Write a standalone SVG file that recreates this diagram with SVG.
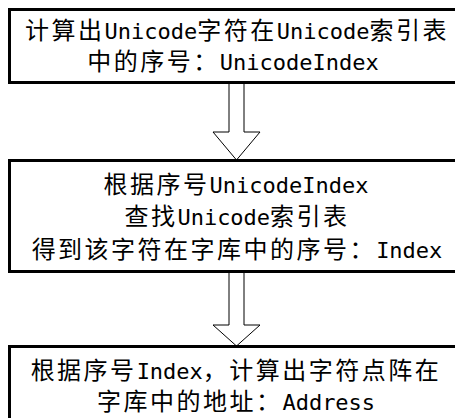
<svg xmlns="http://www.w3.org/2000/svg" width="455" height="418" viewBox="0 0 455 418">
<style>
.box{fill:#fff;stroke:#000;stroke-width:3}
.arr{fill:#fff;stroke:#000;stroke-width:1}
text{font-family:"Noto Sans CJK SC","Noto Sans",sans-serif;font-size:24px;letter-spacing:2.5px;fill:#000;text-anchor:middle}
.lat{font-family:"DejaVu Sans Mono","Liberation Mono",monospace;font-size:22px;letter-spacing:0}
</style>
<rect width="455" height="418" fill="#fff"/>
<g id="connectors">
<polygon class="arr" points="229,83 229,132 213,132 236.5,160 260,132 244,132 244,83"/>
<polygon class="arr" points="229,272 229,325 213,325 236.5,346 260,325 244,325 244,272"/>
</g>
<g id="node1">
<rect class="box" x="9.5" y="9.5" width="453" height="73"/>
<text x="237" y="39">计算出<tspan class="lat">Unicode</tspan>字符在<tspan class="lat">Unicode</tspan>索引表</text>
<text x="233" y="70">中的序号：<tspan class="lat">UnicodeIndex</tspan></text>
</g>
<g id="node2">
<rect class="box" x="9.5" y="160.5" width="453" height="111"/>
<text x="236" y="192.5">根据序号<tspan class="lat">UnicodeIndex</tspan></text>
<text x="237" y="225">查找<tspan class="lat">Unicode</tspan>索引表</text>
<text x="237" y="257.5">得到该字符在字库中的序号：<tspan class="lat">Index</tspan></text>
</g>
<g id="node3">
<rect class="box" x="9.5" y="346.5" width="453" height="100"/>
<text x="236" y="379">根据序号<tspan class="lat">Index</tspan>，计算出字符点阵在</text>
<text x="236" y="410">字库中的地址：<tspan class="lat">Address</tspan></text>
</g>
</svg>
